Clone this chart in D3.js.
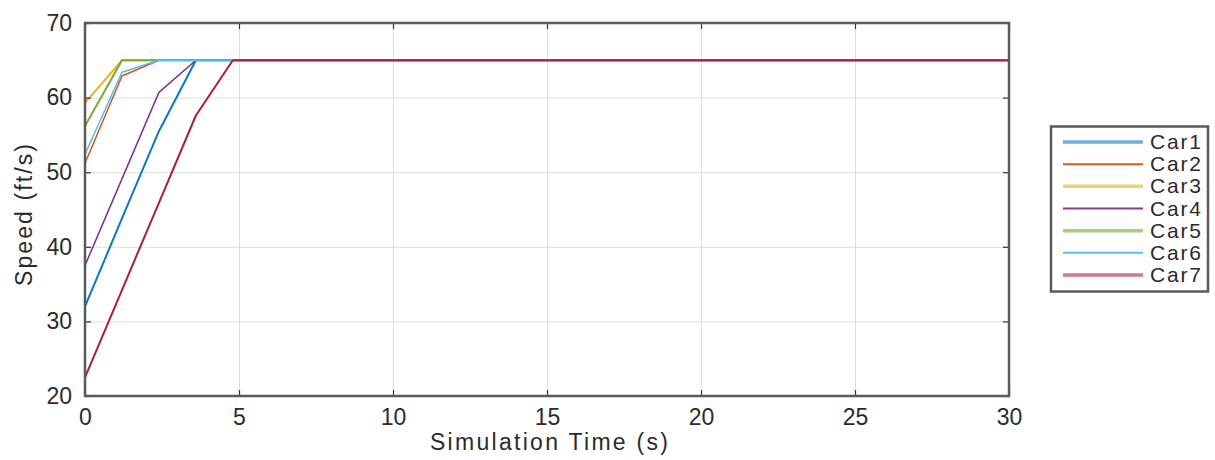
<!DOCTYPE html>
<html>
<head>
<meta charset="utf-8">
<script src="https://cdn.jsdelivr.net/npm/d3@7/dist/d3.min.js"></script>
<style>
  html, body { margin: 0; padding: 0; background: #fff; }
  svg { display: block; }
  text { font-family: "Liberation Sans", Arial, Helvetica, sans-serif; fill: #2b2b2b; }
</style>
</head>
<body>
<svg id="chart" width="1215" height="460"></svg>
<script>
// ---- data ----
const times = [0, 1.2, 2.4, 3.6, 4.8, 30];
const seriesNames = ["Car1", "Car2", "Car3", "Car4", "Car5", "Car6", "Car7"];
const car1 = [32.0, 43.8, 55.5, 65, 65, 65];
const car2 = [51.2, 62.9, 65, 65, 65, 65];
const car3 = [59.3, 65, 65, 65, 65, 65];
const car4 = [37.5, 49.1, 60.7, 65, 65, 65];
const car5 = [56.2, 65, 65, 65, 65, 65];
const car6 = [52.4, 63.4, 65, 65, 65, 65];
const car7 = [22.5, 34.2, 45.9, 57.6, 65, 65];
const xTicks = [0, 5, 10, 15, 20, 25, 30];
const yTicks = [20, 30, 40, 50, 60, 70];
const xLabel = "Simulation Time (s)";
const yLabel = "Speed (ft/s)";

const seriesValues = [car1, car2, car3, car4, car5, car6, car7];
const colors = ["#0a78c2", "#D95319", "#EDB120", "#7E2F8E", "#77AC30", "#4DBEEE", "#b01c38"];
const widths = [2, 1.5, 2, 1.5, 2, 1.5, 2];

// ---- layout ----
const svg = d3.select("#chart");
const L = 85, R = 1009, T = 23, B = 396;
const x = d3.scaleLinear().domain([0, 30]).range([L, R]);
const y = d3.scaleLinear().domain([20, 70]).range([B, T]);

// gridlines
svg.append("g").attr("transform", `translate(0,${B})`)
  .call(d3.axisBottom(x).tickValues(xTicks).tickSize(-(B - T)).tickFormat(""))
  .call(g => g.select(".domain").remove())
  .call(g => g.selectAll("line").attr("stroke", "#dedede").attr("stroke-width", 1));
svg.append("g").attr("transform", `translate(${L},0)`)
  .call(d3.axisLeft(y).tickValues(yTicks).tickSize(-(R - L)).tickFormat(""))
  .call(g => g.select(".domain").remove())
  .call(g => g.selectAll("line").attr("stroke", "#dedede").attr("stroke-width", 1));

// lines
const line = d3.line().x((d, i) => x(times[i])).y(d => y(d));
seriesValues.forEach((vals, k) => {
  svg.append("path")
    .datum(vals)
    .attr("d", line)
    .attr("fill", "none")
    .attr("stroke", colors[k])
    .attr("stroke-width", widths[k])
    .attr("stroke-linejoin", "round");
});

// axes box
const axisColor = "#5a5a5a";
const fs = 23;
const xAxisB = svg.append("g").attr("transform", `translate(0,${B})`)
  .call(d3.axisBottom(x).tickValues(xTicks).tickSize(-6).tickPadding(12.5).tickFormat(d3.format("d")));
const xAxisT = svg.append("g").attr("transform", `translate(0,${T})`)
  .call(d3.axisTop(x).tickValues(xTicks).tickSize(-6).tickFormat(""));
const yAxisL = svg.append("g").attr("transform", `translate(${L},0)`)
  .call(d3.axisLeft(y).tickValues(yTicks).tickSize(-6).tickPadding(13).tickFormat(d3.format("d")));
const yAxisR = svg.append("g").attr("transform", `translate(${R},0)`)
  .call(d3.axisRight(y).tickValues(yTicks).tickSize(-6).tickFormat(""));
[xAxisB, xAxisT, yAxisL, yAxisR].forEach(g => {
  g.select(".domain").remove();
  g.selectAll("line").attr("stroke", "#333").attr("stroke-width", 1.2);
  g.selectAll("text").attr("font-size", fs).attr("fill", "#333")
    .style("font-family", '"Liberation Sans", Arial, sans-serif');
});
svg.append("rect")
  .attr("x", L).attr("y", T).attr("width", R - L).attr("height", B - T)
  .attr("fill", "none").attr("stroke", axisColor).attr("stroke-width", 2.5);

// axis labels
svg.append("text")
  .attr("x", (430 + 668) / 2).attr("y", 450)
  .attr("text-anchor", "middle").attr("font-size", fs)
  .attr("textLength", 238).attr("lengthAdjust", "spacing")
  .attr("fill", "#333")
  .text(xLabel);
svg.append("text")
  .attr("transform", `translate(32,${215}) rotate(-90)`)
  .attr("text-anchor", "middle").attr("font-size", fs)
  .attr("textLength", 142).attr("lengthAdjust", "spacing")
  .attr("fill", "#333")
  .text(yLabel);

// legend
const lg = svg.append("g");
lg.append("rect")
  .attr("x", 1051).attr("y", 126.5).attr("width", 157).attr("height", 165)
  .attr("fill", "#fff").attr("stroke", axisColor).attr("stroke-width", 2.5);
const rowY = d3.scaleLinear().domain([0, 6]).range([142, 275]);
seriesNames.forEach((name, k) => {
  const yy = rowY(k);
  lg.append("line")
    .attr("x1", 1063).attr("x2", 1143).attr("y1", yy).attr("y2", yy)
    .attr("stroke", colors[k])
    .attr("stroke-width", k % 2 === 0 ? 3.5 : 2)
    .attr("stroke-opacity", k % 2 === 0 ? 0.6 : 0.95);
  lg.append("text")
    .attr("x", 1150).attr("y", yy + 7)
    .attr("font-size", 21).attr("fill", "#222")
    .attr("textLength", 51).attr("lengthAdjust", "spacing")
    .text(name);
});
</script>
</body>
</html>
